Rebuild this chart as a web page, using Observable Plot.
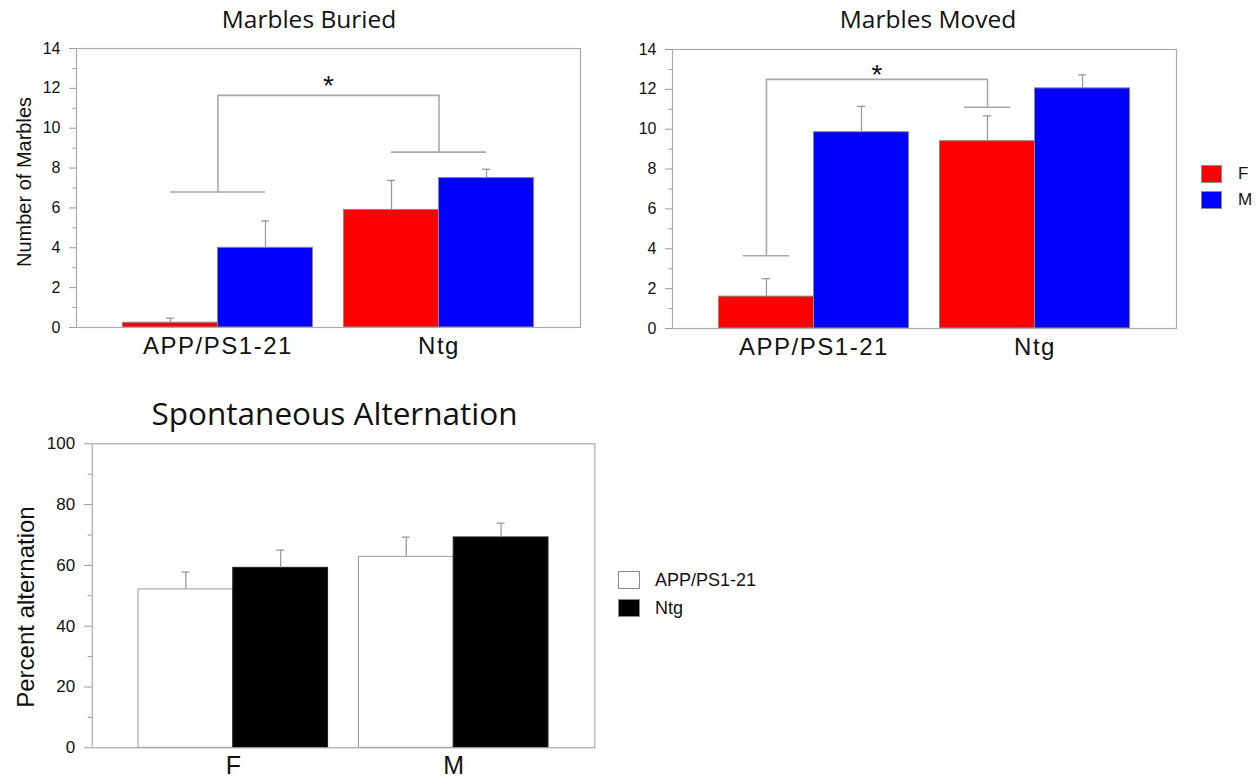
<!DOCTYPE html>
<html>
<head>
<meta charset="utf-8">
<script src="https://cdn.jsdelivr.net/npm/d3@7"></script>
<script src="https://cdn.jsdelivr.net/npm/@observablehq/plot@0.6"></script>
<style>
  html, body { margin: 0; padding: 0; background: #fff; }
  #fig { position: relative; width: 1260px; height: 778px; overflow: hidden; background: #fff;
         font-family: "Liberation Sans", Arial, sans-serif; color: #111; }
  .abs { position: absolute; }
  .title { font-family: "Open Sans", sans-serif; line-height: 1; white-space: nowrap;
           transform: translateX(-50%); color: #111; }
  .ylab { line-height: 1; white-space: nowrap; transform: translate(-50%, -50%) rotate(-90deg); color: #111; }
  .swatch { position: absolute; box-sizing: border-box; border: 1px solid #8c8c8c; }
  .leglab { position: absolute; white-space: nowrap; color: #111; }
  .marbles g[aria-label="x-axis tick label"] text { letter-spacing: 1.5px; }
</style>
</head>
<body>
<div id="fig"></div>
<script>
// ---- data -------------------------------------------------------------
const genotypes = ["APP/PS1-21", "Ntg"];
const sexes = ["F", "M"];
const sexColors = ["#ff0000", "#0000ff"];
const genotypeColors = ["#ffffff", "#000000"];

// Marbles buried, mean and SEM per genotype
const buriedMeanF = [0.24, 5.9];
const buriedSemF  = [0.23, 1.48];
const buriedMeanM = [4.0, 7.5];
const buriedSemM  = [1.35, 0.44];

// Marbles moved, mean and SEM per genotype
const movedMeanF = [1.6, 9.4];
const movedSemF  = [0.9, 1.27];
const movedMeanM = [9.85, 12.05];
const movedSemM  = [1.3, 0.68];

// Spontaneous alternation (%), mean and SEM per sex
const altMeanAPP = [52.1, 62.8];
const altSemAPP  = [5.7, 6.5];
const altMeanNtg = [59.2, 69.2];
const altSemNtg  = [5.8, 4.7];

const marbleTicks      = [0, 2, 4, 6, 8, 10, 12, 14];
const marbleMinorTicks = [1, 3, 5, 7, 9, 11, 13];
const altTicks         = [0, 20, 40, 60, 80, 100];
const altMinorTicks    = [10, 30, 50, 70, 90];

// significance brackets (APP/PS1-21 vs Ntg): left foot, top, top, right foot
const buriedBracketY = [6.8, 11.65, 11.65, 8.8];
const buriedStarY = 12.1;
const movedBracketY = [3.65, 12.5, 12.5, 11.1];
const movedStarY = 12.7;

// ---- styling ----------------------------------------------------------
const PAD_IN = 0.14, PAD_OUT = 0.21;
const FRAME = "#ababab", TICK = "#9a9a9a", ERR = "#9a9a9a", BRACKET = "#a8a8a8";
const CAP = 4;
const SANS = "'Liberation Sans', Arial, sans-serif";

function barPanel(o) {
  const {groups, series, yMax, ticks, minor, width, height, margin,
         tickFont, tickLen, xFont, xPad, bracket, className} = o;
  // same band layout as the Plot x scale, used for sub-bar offsets
  const band = d3.scaleBand(groups, [margin.left, width - margin.right])
    .paddingInner(PAD_IN).paddingOuter(PAD_OUT);
  const bw = band.bandwidth(), step = band.step(), half = bw / 2;
  const marks = [];

  series.forEach((s, j) => {
    const rows = groups.map((g, i) => ({group: g, mean: s.mean[i], top: s.mean[i] + s.sem[i]}));
    const centre = j === 0 ? bw / 4 : 3 * bw / 4;
    marks.push(
      Plot.barY(rows, {x: "group", y: "mean", fill: s.color, stroke: s.stroke, strokeWidth: 1,
        insetLeft: j === 0 ? 0 : half, insetRight: j === 0 ? half : 0}),
      Plot.ruleX(rows, {x: "group", y1: "mean", y2: "top", dx: centre - half, stroke: ERR, strokeWidth: 1.3}),
      Plot.tickY(rows, {x: "group", y: "top", insetLeft: centre - CAP, insetRight: bw - centre - CAP,
        stroke: ERR, strokeWidth: 1.3})
    );
  });

  if (bracket) {
    const shift = bracket.at * bw;            // offset of bracket feet from band centre
    const c = half + shift, w = bracket.cross * bw / 2;
    const pts = [groups[0], groups[0], groups[1], groups[1]].map((g, i) => ({g, y: bracket.y[i]}));
    const feet = [{g: groups[0], y: bracket.y[0]}, {g: groups[1], y: bracket.y[3]}];
    marks.push(
      Plot.line(pts, {x: "g", y: "y", dx: shift, stroke: BRACKET, strokeWidth: 1.6}),
      Plot.tickY(feet, {x: "g", y: "y", insetLeft: c - w, insetRight: bw - c - w, stroke: BRACKET, strokeWidth: 1.6}),
      Plot.text([{g: groups[0], y: bracket.star, t: "*"}], {x: "g", y: "y", text: "t",
        dx: step / 2 + shift, fontSize: 28, fill: "#111", fontFamily: SANS})
    );
  }

  marks.push(
    Plot.frame({stroke: FRAME, strokeWidth: 1.2}),
    Plot.axisY({ticks: minor, tickSize: tickLen / 2, tickFormat: () => "", stroke: TICK, label: null}),
    Plot.axisY({ticks, tickSize: tickLen, tickPadding: 9, fontSize: tickFont, stroke: TICK, label: null}),
    Plot.axisX({tickSize: 0, tickPadding: xPad, fontSize: xFont, label: null})
  );

  return Plot.plot({
    width, height,
    marginTop: margin.top, marginRight: margin.right, marginBottom: margin.bottom, marginLeft: margin.left,
    className,
    x: {type: "band", domain: groups, paddingInner: PAD_IN, paddingOuter: PAD_OUT, round: false},
    y: {domain: [0, yMax]},
    style: {fontFamily: SANS, background: "transparent", overflow: "visible", color: "#111"},
    marks
  });
}

// ---- layout -----------------------------------------------------------
const fig = document.getElementById("fig");

function place(node, left, top) {
  node.style.position = "absolute";
  node.style.left = left + "px";
  node.style.top = top + "px";
  fig.appendChild(node);
}

function title(text, cx, baseline, size) {
  const d = document.createElement("div");
  d.className = "title abs";
  d.textContent = text;
  d.style.fontSize = size + "px";
  d.style.left = cx + "px";
  d.style.top = (baseline - 0.888 * size) + "px";
  fig.appendChild(d);
}

function yLabel(text, cx, cy, size) {
  const d = document.createElement("div");
  d.className = "ylab abs";
  d.textContent = text;
  d.style.fontSize = size + "px";
  d.style.left = cx + "px";
  d.style.top = cy + "px";
  fig.appendChild(d);
}

function legend(left, top, rowStep, sw, sh, gap, size, labels, colors) {
  labels.forEach((lab, i) => {
    const s = document.createElement("div");
    s.className = "swatch";
    s.style.left = left + "px";
    s.style.top = (top + i * rowStep) + "px";
    s.style.width = sw + "px";
    s.style.height = sh + "px";
    s.style.background = colors[i];
    fig.appendChild(s);
    const t = document.createElement("div");
    t.className = "leglab";
    t.textContent = lab;
    t.style.fontSize = size + "px";
    t.style.lineHeight = sh + "px";
    t.style.left = (left + sw + gap) + "px";
    t.style.top = (top + i * rowStep) + "px";
    fig.appendChild(t);
  });
}

const marbleMargin = {top: 48, right: 20, bottom: 43, left: 76};

place(barPanel({
  groups: genotypes,
  series: [
    {mean: buriedMeanF, sem: buriedSemF, color: sexColors[0], stroke: "#8a8a8a"},
    {mean: buriedMeanM, sem: buriedSemM, color: sexColors[1], stroke: "#8a8a8a"}
  ],
  yMax: 14, ticks: marbleTicks, minor: marbleMinorTicks,
  width: 600, height: 370, margin: marbleMargin,
  tickFont: 16, tickLen: 7, xFont: 24, xPad: 9, className: "marbles",
  bracket: {y: buriedBracketY, star: buriedStarY, at: 0, cross: 0.5}
}), 0, 0);

place(barPanel({
  groups: genotypes,
  series: [
    {mean: movedMeanF, sem: movedSemF, color: sexColors[0], stroke: "#8a8a8a"},
    {mean: movedMeanM, sem: movedSemM, color: sexColors[1], stroke: "#8a8a8a"}
  ],
  yMax: 14, ticks: marbleTicks, minor: marbleMinorTicks,
  width: 600, height: 370, margin: marbleMargin,
  tickFont: 16, tickLen: 7, xFont: 24, xPad: 9, className: "marbles",
  bracket: {y: movedBracketY, star: movedStarY, at: -0.25, cross: 0.245}
}), 596, 1);

place(barPanel({
  groups: sexes,
  series: [
    {mean: altMeanAPP, sem: altSemAPP, color: genotypeColors[0], stroke: "#9a9a9a"},
    {mean: altMeanNtg, sem: altSemNtg, color: genotypeColors[1], stroke: "#222"}
  ],
  yMax: 100, ticks: altTicks, minor: altMinorTicks,
  width: 610, height: 388, margin: {top: 53.3, right: 15.7, bottom: 30.7, left: 91.7},
  tickFont: 17, tickLen: 8, xFont: 25, xPad: 8, className: "alternation"
}), 0, 390);

title("Marbles Buried", 309, 29, 24.5);
title("Marbles Moved", 928, 29, 24.5);
title("Spontaneous Alternation", 334.5, 425, 31.5);

yLabel("Number of Marbles", 24, 182, 20);
yLabel("Percent alternation", 26, 606.5, 24);

legend(1201, 165, 26, 21, 18, 16, 17, sexes, sexColors);
legend(618, 571, 28, 22, 18, 15, 18, genotypes, genotypeColors);
</script>
</body>
</html>
